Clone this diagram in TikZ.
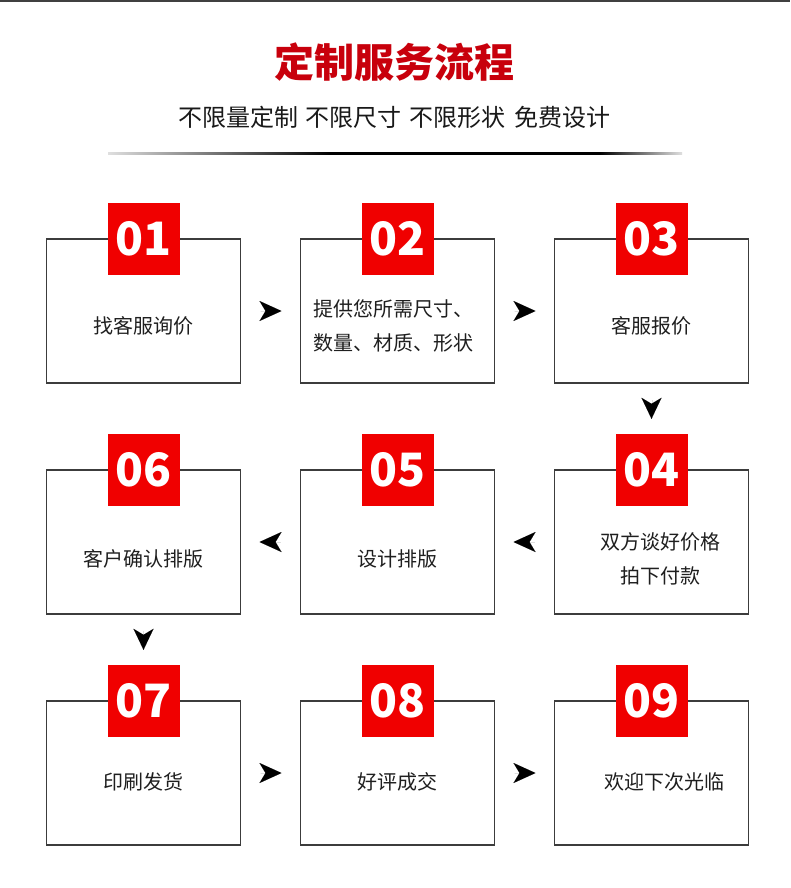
\documentclass[tikz,border=0pt]{standalone}
\usepackage{fontspec}
\setmainfont{Noto Sans CJK SC}
\usetikzlibrary{positioning,arrows.meta}
\definecolor{titlered}{RGB}{200,0,12}
\definecolor{numred}{RGB}{240,0,0}
\definecolor{boxline}{RGB}{60,60,60}
\tikzset{
  stepbox/.style={draw=boxline,line width=1.4pt,minimum width=194pt,minimum height=144pt,inner sep=0pt,outer sep=0pt},
  numbox/.style={fill=numred,minimum size=72pt,inner sep=0pt,text=white,font=\fontsize{46}{46}\selectfont\bfseries},
  steptext/.style={align=center,text=black!88,font=\fontsize{20}{33.5}\selectfont},
  flowtip/.style={-{Stealth[length=22pt,width=20pt,inset=6pt]},line width=0.01pt,shorten <=20pt,shorten >=19pt},
  downtip/.style={-{Stealth[length=21pt,width=20pt,inset=6pt]},line width=0.01pt,shorten <=17pt,shorten >=15pt},
}
\begin{document}
\begin{tikzpicture}[x=1pt,y=-1pt,node distance=60pt]

\useasboundingbox (0,0) rectangle (790,888);
\fill[white] (0,0) rectangle (790,888);
\fill[black!75] (0,0) rectangle (790,2);

% title
\node[text=titlered,font=\fontsize{40}{40}\selectfont\bfseries] (title) at (394,62) {定制服务流程};
\node[text=black!90,font=\fontsize{24}{24}\selectfont] (subtitle) at (394,117) {不限量定制\hspace{8pt}不限尺寸\hspace{8pt}不限形状\hspace{8pt}免费设计};
\shade[left color=gray!25,right color=black] (108,152) rectangle (330,154.5);
\fill[black] (330,152) rectangle (600,154.5);
\shade[left color=black,right color=gray!25] (600,152) rectangle (682,154.5);

% boxes
\node[stepbox] (b1) at (143.5,311) {};
\node[stepbox,right=of b1] (b2) {};
\node[stepbox,right=of b2] (b3) {};
\node[stepbox,below=87pt of b3] (b4) {};
\node[stepbox,left=of b4] (b5) {};
\node[stepbox,left=of b5] (b6) {};
\node[stepbox,below=87pt of b6] (b7) {};
\node[stepbox,right=of b7] (b8) {};
\node[stepbox,right=of b8] (b9) {};

% numbers
\foreach \i in {1,...,9}
  \node[numbox] (n\i) at (b\i.north) {0\i};

% step texts
\node[steptext] (t1) at ([yshift=-15pt]b1.center) {找客服询价};
\node[steptext] (t2) at ([xshift=-4pt,yshift=-15pt]b2.center) {提供您所需尺寸、\\数量、材质、形状};
\node[steptext] (t3) at ([yshift=-15pt]b3.center) {客服报价};
\node[steptext] (t4) at ([xshift=9pt,yshift=-17pt]b4.center) {双方谈好价格\\拍下付款};
\node[steptext] (t5) at ([yshift=-17pt]b5.center) {设计排版};
\node[steptext] (t6) at ([yshift=-17pt]b6.center) {客户确认排版};
\node[steptext] (t7) at ([yshift=-9pt]b7.center) {印刷发货};
\node[steptext] (t8) at ([yshift=-9pt]b8.center) {好评成交};
\node[steptext] (t9) at ([xshift=13pt,yshift=-9pt]b9.center) {欢迎下次光临};

% arrows
\draw[flowtip] (b1) -- (b2);
\draw[flowtip] (b2) -- (b3);
\draw[downtip] (b3) -- (n4);
\draw[flowtip] (b4) -- (b5);
\draw[flowtip] (b5) -- (b6);
\draw[downtip] (b6) -- (n7);
\draw[flowtip] (b7) -- (b8);
\draw[flowtip] (b8) -- (b9);

\end{tikzpicture}
\end{document}
